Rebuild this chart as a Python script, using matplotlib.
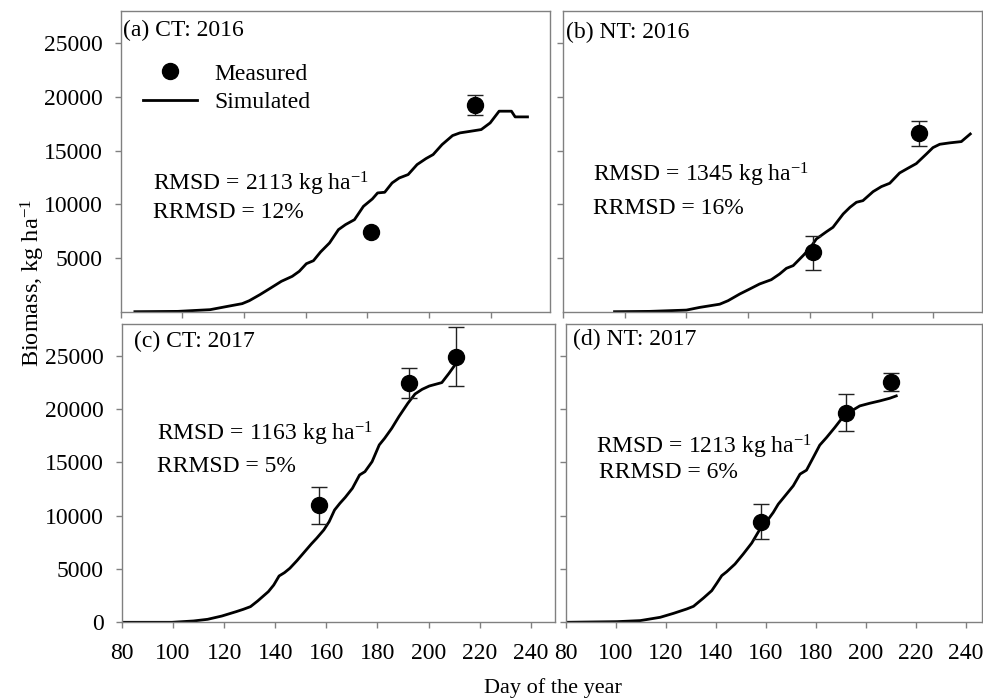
import matplotlib
matplotlib.use("Agg")
import matplotlib.pyplot as plt
from matplotlib.lines import Line2D
import numpy as np

plt.rcParams['font.family'] = ['Liberation Serif', 'DejaVu Serif']
plt.rcParams['mathtext.fontset'] = 'custom'
plt.rcParams['mathtext.rm'] = 'Liberation Serif'
plt.rcParams['mathtext.default'] = 'regular'

# ---- Data ----
# (a) CT 2016
sim_a_day = [84.6, 98.5, 109, 114.7, 119.4, 121.7, 125.1, 128.6, 132.1, 135.6, 137.9, 140.2, 142.5,
             144.8, 147.7, 150.6, 152.9, 155.8, 158.7, 161.6, 163.3, 165.6, 168, 170.3, 173.2, 176.1,
             179, 181.3, 184.2, 187.6, 190, 193.4, 196.9, 199.8, 202.7, 206.7, 207.9, 211.9]
sim_a_val = [0, 30, 190, 500, 750, 1025, 1580, 2200, 2830, 3290, 3760, 4470, 4750,
             5560, 6400, 7640, 8110, 8570, 9810, 10500, 11060, 11120, 11990, 12450, 12770, 13700,
             14260, 14630, 15560, 16400, 16650, 16800, 16960, 17580, 18670, 18670, 18140, 18140]
obs_a_day = [161, 194.9]
obs_a_val = [7420, 19290]
obs_a_lo = [0, 1000]
obs_a_hi = [0, 930]

# (b) NT 2016
sim_b_day = [96.7, 108.1, 120, 124.3, 130.8, 133.5, 137.3, 140.5, 143.7, 147.5, 150.2, 152.4, 154.6,
             157.8, 160, 162.1, 165.4, 167.5, 170.8, 173, 175.1, 177.2, 180.5, 183.2, 185.9, 189.1,
             191.8, 194.5, 197.8, 199.9, 202.1, 205.3, 209.1, 212]
sim_b_val = [0, 30, 150, 400, 700, 1025, 1650, 2110, 2580, 2980, 3510, 4040, 4290,
             5220, 5900, 6770, 7450, 7860, 9100, 9720, 10190, 10340, 11180, 11650, 11960, 12920,
             13360, 13790, 14690, 15280, 15590, 15720, 15840, 16550]
obs_b_day = [161, 195.4]
obs_b_val = [5530, 16620]
obs_b_lo = [1620, 1180]
obs_b_hi = [1550, 1180]

# (c) CT 2017
sim_c_day = [80.7, 99.6, 108, 113.5, 119.1, 124.7, 127.5, 130.3, 133.1, 137.3, 139.4, 141.5, 143.6,
             145.7, 148.5, 151.3, 154.1, 156.2, 159, 161.1, 163.2, 165.3, 167.4, 170.2, 173, 175.1,
             177.9, 180.7, 182.8, 185.6, 188.4, 191.9, 194.7, 197.5, 200.3, 205.2, 208, 210.8]
sim_c_val = [0, 0, 125, 280, 590, 1000, 1220, 1470, 2000, 2880, 3500, 4350, 4660,
             5070, 5790, 6570, 7350, 7890, 8670, 9450, 10540, 11170, 11730, 12580, 13830, 14140,
             15080, 16650, 17270, 18210, 19310, 20560, 21430, 21870, 22180, 22500, 23370, 24310]
obs_c_day = [157.3, 192.3, 210.6]
obs_c_val = [11010, 22500, 24940]
obs_c_lo = [1810, 1470, 2760]
obs_c_hi = [1730, 1340, 2750]

# (d) NT 2017
sim_d_day = [80, 100.6, 109.9, 117.9, 123.2, 128.5, 131.2, 135.2, 138.5, 140.5, 142.5, 144.5, 147.8,
             151.1, 154.5, 157.8, 160.5, 163.1, 165.1, 167.1, 171.1, 173.8, 176.4, 179.1, 181.7, 184.4,
             187.7, 191, 194.4, 197.7, 201.7, 205.7, 209.7, 212.3]
sim_d_val = [0, 60, 160, 470, 840, 1250, 1500, 2280, 2970, 3660, 4380, 4750, 5470,
             6410, 7440, 8750, 9470, 10310, 11090, 11660, 12810, 13910, 14280, 15470, 16630, 17340,
             18280, 19280, 19840, 20310, 20560, 20780, 21030, 21250]
obs_d_day = [158.1, 192.1, 210]
obs_d_val = [9440, 19630, 22590]
obs_d_lo = [1660, 1720, 870]
obs_d_hi = [1650, 1780, 850]

panel_titles = ["(a) CT: 2016", "(b) NT: 2016", "(c) CT: 2017", "(d) NT: 2017"]
rmsd_texts = [r"RMSD = 2113 kg ha$^{-1}$", r"RMSD = 1345 kg ha$^{-1}$",
              r"RMSD = 1163 kg ha$^{-1}$", r"RMSD = 1213 kg ha$^{-1}$"]
rrmsd_texts = ["RRMSD = 12%", "RRMSD = 16%", "RRMSD = 5%", "RRMSD = 6%"]
x_ticks = [80, 100, 120, 140, 160, 180, 200, 220, 240]
y_ticks_top = [5000, 10000, 15000, 20000, 25000]
y_ticks_bot = [0, 5000, 10000, 15000, 20000, 25000]

W, H = 983, 698
FS = 17
fig = plt.figure(figsize=(W / 100, H / 100), dpi=100)

def px_axes(l, t, r, b):
    return fig.add_axes([l / W, 1 - b / H, (r - l) / W, (b - t) / H])

ax_a = px_axes(120.7, 11, 550, 311.7)
ax_b = px_axes(563, 11, 982, 311.7)
ax_c = px_axes(122, 324, 555, 622.3)
ax_d = px_axes(565.5, 324, 982, 622.3)

spine_col = "#808080"
panels = [
    (ax_a, sim_a_day, sim_a_val, obs_a_day, obs_a_val, obs_a_lo, obs_a_hi, (80, 219.2), y_ticks_top),
    (ax_b, sim_b_day, sim_b_val, obs_b_day, obs_b_val, obs_b_lo, obs_b_hi, (80, 215.8), y_ticks_top),
    (ax_c, sim_c_day, sim_c_val, obs_c_day, obs_c_val, obs_c_lo, obs_c_hi, (80, 249.5), y_ticks_bot),
    (ax_d, sim_d_day, sim_d_val, obs_d_day, obs_d_val, obs_d_lo, obs_d_hi, (80, 246.6), y_ticks_bot),
]

for i, (ax, sd, sv, od, ov, lo, hi, xl, yt) in enumerate(panels):
    ax.plot(sd, sv, color="black", lw=2.0, solid_joinstyle="round", zorder=2)
    yerr = np.array([lo, hi])
    ax.errorbar(od, ov, yerr=yerr, fmt="o", color="black", ms=11.5, elinewidth=1.0,
                capsize=6, capthick=1.0, ecolor="#222222", zorder=3)
    ax.set_xlim(*xl)
    ax.set_ylim(0, 28000)
    ax.set_xticks([t for t in x_ticks if t <= xl[1]])
    ax.set_yticks(yt)
    for s in ax.spines.values():
        s.set_color(spine_col)
        s.set_linewidth(1.0)
    ax.tick_params(direction="out", length=4, width=1, color=spine_col, labelsize=FS)
    ax.tick_params(axis="x", pad=11)
    ax.tick_params(axis="y", pad=9)
    if i in (0, 1):
        ax.tick_params(labelbottom=False)
    if i in (1, 3):
        ax.tick_params(labelleft=False)

def ftext(x, y, s, **kw):
    fig.text(x / W, 1 - y / H, s, fontsize=FS, va="center", ha="left", **kw)

# panel titles
ftext(123, 30, panel_titles[0])
ftext(566, 32, panel_titles[1])
ftext(134, 341, panel_titles[2])
ftext(573, 339, panel_titles[3])

# stats
ftext(153, 184, rmsd_texts[0]); ftext(153, 213, rrmsd_texts[0])
ftext(593, 175, rmsd_texts[1]); ftext(593, 208, rrmsd_texts[1])
ftext(157, 434, rmsd_texts[2]); ftext(157, 467, rrmsd_texts[2])
ftext(596, 447, rmsd_texts[3]); ftext(599, 473, rrmsd_texts[3])

# legend in panel (a)
h_meas = Line2D([], [], ls="none", marker="o", ms=11.5, color="black")
h_sim = Line2D([], [], color="black", lw=2.0)
ax_a.legend([h_meas, h_sim], ["Measured", "Simulated"],
            loc="upper left", bbox_to_anchor=(22 / 429.3, 1 - 52 / 300.7),
            frameon=False, fontsize=FS, handlelength=2.3, handletextpad=0.75,
            labelspacing=0.3, borderaxespad=0, borderpad=0)

# axis labels
fig.text(33 / W, 1 - 283 / H, r"Biomass, kg ha$^{-1}$", rotation=90, fontsize=17.5,
         ha="center", va="center")
fig.text(553 / W, 1 - 688 / H, "Day of the year", fontsize=16, ha="center", va="center")

fig.savefig("out.png", dpi=100)
